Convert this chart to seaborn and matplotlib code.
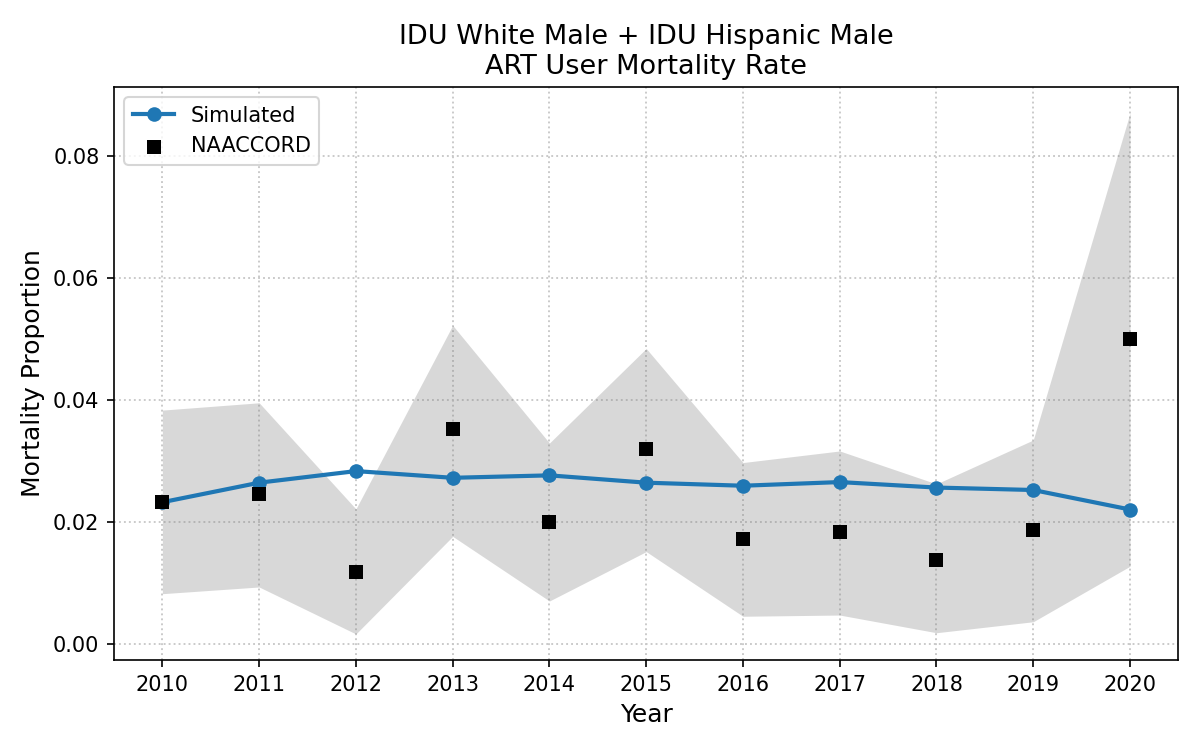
import numpy as np
import pandas as pd
import seaborn as sns
import matplotlib
matplotlib.use("Agg")
import matplotlib.pyplot as plt

years = [2010, 2011, 2012, 2013, 2014, 2015, 2016, 2017, 2018, 2019, 2020]
simulated = [0.0232, 0.0264, 0.0283, 0.0272, 0.0276, 0.0264, 0.0259, 0.0265, 0.0256, 0.0252, 0.0220]
sim_lower = [0.0082, 0.0093, 0.0016, 0.0176, 0.0070, 0.0151, 0.0045, 0.0047, 0.0018, 0.0036, 0.0127]
sim_upper = [0.0383, 0.0395, 0.0221, 0.0522, 0.0329, 0.0484, 0.0297, 0.0316, 0.0262, 0.0334, 0.0870]
naaccord = [0.0232, 0.0245, 0.0117, 0.0352, 0.0199, 0.0319, 0.0171, 0.0183, 0.0137, 0.0187, 0.0500]


def main():
    sim = pd.DataFrame({"year": years, "value": simulated,
                        "lower": sim_lower, "upper": sim_upper})
    obs = pd.DataFrame({"year": years, "value": naaccord})

    fig, ax = plt.subplots(figsize=(8, 5), dpi=150)

    ax.fill_between(sim["year"], sim["lower"], sim["upper"],
                    color="gray", alpha=0.3, linewidth=0)
    sns.lineplot(data=sim, x="year", y="value", ax=ax, marker="o",
                 markersize=7, markeredgewidth=0, linewidth=2,
                 color="#1f77b4", label="Simulated")
    sns.scatterplot(data=obs, x="year", y="value", ax=ax, marker="s",
                    s=45, color="black", linewidth=0, label="NAACCORD",
                    zorder=3)

    ax.set_xticks(years)
    ax.set_xticklabels([str(y) for y in years])
    ax.grid(True, linestyle=":", color="#c8c8c8", linewidth=0.9)
    ax.set_axisbelow(True)
    ax.tick_params(labelsize=10)

    ax.set_title("IDU White Male + IDU Hispanic Male\nART User Mortality Rate", fontsize=13)
    ax.set_xlabel("Year", fontsize=12)
    ax.set_ylabel("Mortality Proportion", fontsize=12)
    ax.legend(loc="upper left", fontsize=10)

    plt.subplots_adjust(left=0.095, right=0.982, top=0.884, bottom=0.12)
    plt.savefig("out.png", dpi=150)


if __name__ == "__main__":
    main()
